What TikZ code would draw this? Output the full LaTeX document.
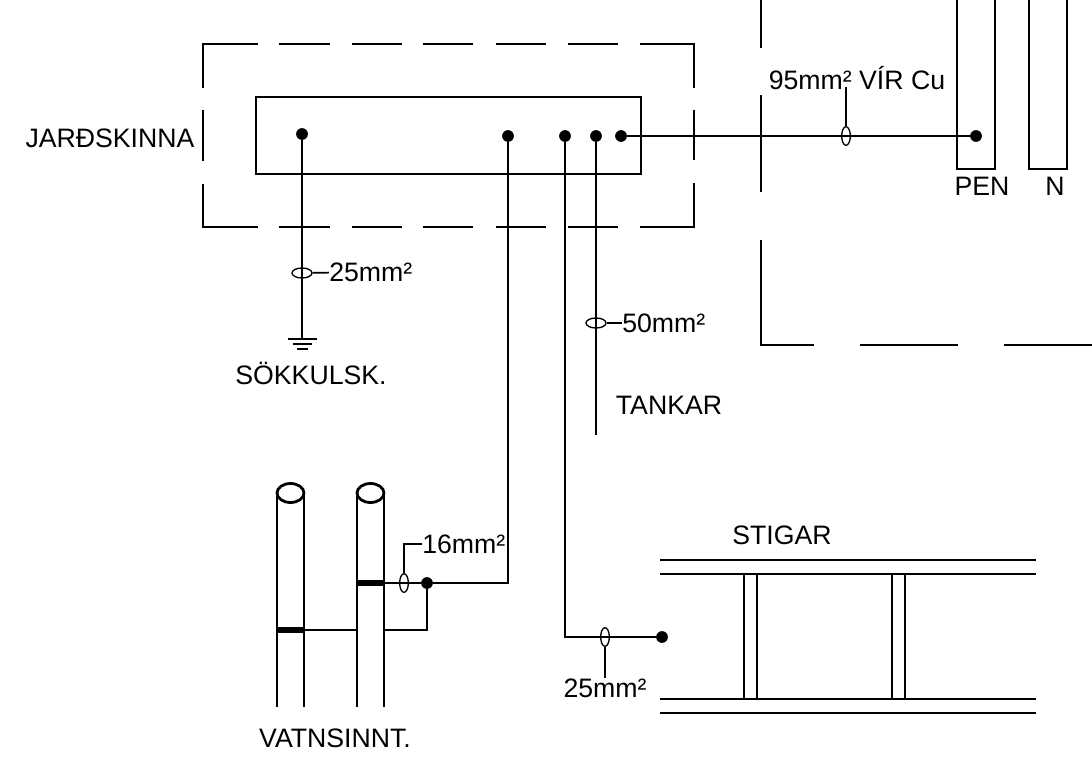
\documentclass[tikz,border=0pt]{standalone}
\usepackage{fontspec}
\usepackage{tikz}
\usetikzlibrary{shapes.geometric}
\setmainfont{Liberation Sans}

\tikzset{
    wire/.style={line width=2.1pt},
    thinwire/.style={line width=1.3pt},
    joint/.style={circle,fill=black,inner sep=0pt,minimum size=8.8pt},
    clampv/.style={ellipse,draw,line width=1pt,inner sep=0pt,minimum width=6.5pt,minimum height=14pt},
    clamph/.style={ellipse,draw,line width=1pt,inner sep=0pt,minimum width=15pt,minimum height=7.5pt},
    band/.style={fill=black,inner sep=0pt,minimum width=20pt,minimum height=4.5pt},
    tag/.style={inner sep=0pt,font=\fontsize{20}{24}\selectfont}
}

\begin{document}
\begin{tikzpicture}[x=0.75pt,y=-0.75pt]
        \useasboundingbox (0,0) rectangle (1092,774);
        % earth bar box
        \draw[wire] (258,44) -- (203,44) -- (203,88);
        \draw[wire] (203,110) -- (203,161);
        \draw[wire] (203,184) -- (203,227) -- (258,227);
        \draw[wire] (640,44) -- (694,44) -- (694,88);
        \draw[wire] (694,110) -- (694,160);
        \draw[wire] (694,183) -- (694,227) -- (640,227);
        \foreach \a/\b in {279/330,352/402,423/473,496/546,568/618}{
            \draw[wire] (\a,44) -- (\b,44);
            \draw[wire] (\a,227) -- (\b,227);
        }
        \draw[wire] (256,97) rectangle (641,174);
        \node[tag] (jard) at (110,138) {JARÐSKINNA};

        \node[joint] (jA) at (302,134) {};
        \node[joint] (jB) at (508,136) {};
        \node[joint] (jC) at (565,136) {};
        \node[joint] (jD) at (596,136) {};
        \node[joint] (jE) at (621,136) {};

        % switchboard on the right
        \draw[wire] (761,0) -- (761,48);
        \draw[wire] (761,95) -- (761,192);
        \draw[wire] (761,240) -- (761,345) -- (814,345);
        \draw[wire] (860,345) -- (958,345);
        \draw[wire] (1004,345) -- (1092,345);
        \draw[wire] (957,0) -- (957,169) -- (995,169) -- (995,0);
        \draw[wire] (1029,0) -- (1029,169) -- (1067,169) -- (1067,0);
        \node[tag] (pen) at (982,186) {PEN};
        \node[tag] (nul) at (1055,186) {N};
        \node[joint] (jPen) at (976,136) {};
        \draw[wire] (jE) -- (jPen);
        \node[clampv] (cPen) at (846,136) {};
        \node[tag] (lPen) at (857,78) {95mm² VÍR Cu};
        \coordinate (tPen) at (846,87);
        \draw[thinwire] (tPen) -- (cPen);

        % earth electrode
        \coordinate (gnd) at (302,339);
        \draw[wire] (jA) -- (gnd);
        \draw[wire] (288,339) -- (317,339);
        \draw[wire] (293,344) -- (312,344);
        \draw[wire] (297,349) -- (308,349);
        \node[clamph] (cGnd) at (302,273) {};
        \node[tag,anchor=west] (lGnd) at (329,272) {25mm²};
        \draw[thinwire] (cGnd) -- (lGnd);
        \node[tag] (sokk) at (311,373) {SÖKKULSK.};

        % tanks
        \coordinate (tank) at (596,435);
        \draw[wire] (jD) -- (tank);
        \node[clamph] (cTank) at (596,323) {};
        \node[tag,anchor=west] (lTank) at (622,323) {50mm²};
        \draw[thinwire] (cTank) -- (lTank);
        \node[tag] (tankar) at (669,405) {TANKAR};

        % water pipes
        \foreach \p in {277,304,357,384}{
            \draw[wire] (\p,493) -- (\p,707);
        }
        \draw[wire] (290.5,493) ellipse (13.5 and 9.5);
        \draw[wire] (370.5,493) ellipse (13.5 and 9.5);
        \node[band] (bOne) at (290.5,630) {};
        \node[band] (bTwo) at (370.5,583) {};
        \node[joint] (jWater) at (427,583) {};
        \coordinate (pOne) at (357,630);
        \coordinate (pTwo) at (384,630);
        \draw[wire] (bOne) -- (pOne);
        \draw[wire] (jWater) |- (pTwo);
        \draw[wire] (bTwo) -- (jWater);
        \draw[wire] (jB) |- (jWater);
        \node[clampv] (cWater) at (404,583) {};
        \node[tag,anchor=west] (lWater) at (422,544) {16mm²};
        \draw[thinwire] (cWater) |- (lWater);
        \node[tag] (vatn) at (335,738) {VATNSINNT.};

        % ladder
        \foreach \y in {560,574,699,713}{
            \draw[thinwire] (660,\y) -- (1036,\y);
        }
        \foreach \r in {744,757,892,905}{
            \draw[thinwire] (\r,574) -- (\r,699);
        }
        \node[tag] (stigar) at (782,535) {STIGAR};
        \node[joint] (jStair) at (662,637) {};
        \draw[wire] (jC) |- (jStair);
        \node[clampv] (cStair) at (605,637) {};
        \node[tag] (lStair) at (605,688) {25mm²};
        \draw[thinwire] (cStair) -- (lStair);
    \end{tikzpicture}
\end{document}
